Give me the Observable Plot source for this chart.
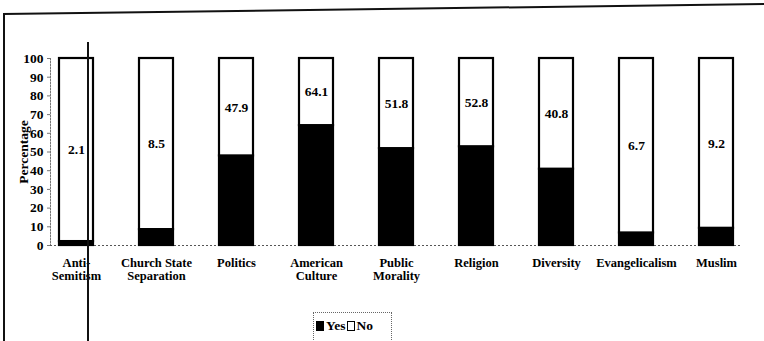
<!DOCTYPE html>
<html>
<head>
<meta charset="utf-8">
<script src="https://cdn.jsdelivr.net/npm/d3@7"></script>
<script src="https://cdn.jsdelivr.net/npm/@observablehq/plot@0.6"></script>
<style>
  html, body { margin: 0; padding: 0; background: #fff; }
  #wrap { position: relative; width: 764px; height: 341px; overflow: hidden; background: #fff; font-family: "Liberation Serif", "Times New Roman", serif; }
  #chart { position: absolute; left: 0; top: 0; }
  #chart svg, #chart svg text { font-family: "Liberation Serif", "Times New Roman", serif !important; }
  #frameLeft { position: absolute; left: 3px; top: 13px; width: 0; height: 340px; border-left: 2px solid #111; }
  #frameTop { position: absolute; left: 3px; top: 13px; width: 770px; height: 0; border-top: 2px solid #111; transform: rotate(-0.75deg); transform-origin: 0 0; }
  #artifact { position: absolute; left: 87px; top: 42px; width: 0; height: 300px; border-left: 2px solid #111; }
  #legend { position: absolute; left: 313px; top: 312px; width: 79px; height: 34px; border: 1px dotted #666; box-sizing: border-box;
            font-family: "Liberation Serif", "Times New Roman", serif; font-weight: bold; font-size: 13.5px; display: flex; align-items: center; justify-content: flex-start; gap: 1px; padding-left: 2px; padding-bottom: 6px; }
  .sw { display: inline-block; width: 8px; height: 10px; box-sizing: border-box; border: 1.5px solid #000; margin-right: 1px; }
</style>
</head>
<body>
<div id="wrap">
  <div id="chart"></div>
  <div id="frameLeft"></div>
  <div id="frameTop"></div>
  <div id="artifact"></div>
  <div id="legend"></div>
</div>
<script>
const categories = ["Anti-Semitism", "Church State Separation", "Politics", "American Culture", "Public Morality", "Religion", "Diversity", "Evangelicalism", "Muslim"];
const categoryLabels = ["Anti-\nSemitism", "Church State\nSeparation", "Politics", "American\nCulture", "Public\nMorality", "Religion", "Diversity", "Evangelicalism", "Muslim"];
const yesValues = [2.1, 8.5, 47.9, 64.1, 51.8, 52.8, 40.8, 6.7, 9.2];
const seriesNames = ["Yes", "No"];
const seriesColors = ["#000000", "#ffffff"];
const yTicks = [0, 10, 20, 30, 40, 50, 60, 70, 80, 90, 100];

const long = categories.flatMap((c, i) => [
  {category: c, series: "Yes", value: yesValues[i]},
  {category: c, series: "No", value: 100 - yesValues[i]}
]);
const labels = categories.map((c, i) => ({category: c, yes: yesValues[i]}));

const serif = '"Liberation Serif", "Times New Roman", serif';

const chart = Plot.plot({
  width: 764,
  height: 300,
  marginTop: 58,
  marginBottom: 55,
  marginLeft: 50,
  marginRight: 22,
  style: {fontFamily: serif, fontWeight: "bold", fontSize: "12px", color: "#000", background: "transparent"},
  x: {domain: categories, paddingInner: 0.575, paddingOuter: 0.1},
  y: {domain: [0, 100]},
  color: {domain: seriesNames, range: seriesColors},
  marks: [
    Plot.frame({anchor: "left", stroke: "#777", strokeDasharray: "1.5,1.5"}),
    Plot.ruleY([0], {stroke: "#555", strokeDasharray: "2,2"}),
    Plot.barY(long, Plot.stackY({x: "category", y: "value", z: "series", order: seriesNames, fill: "series", stroke: "#000", strokeWidth: 2.2})),
    Plot.text(labels, {x: "category", y: d => (d.yes + 100) / 2, text: d => d.yes.toFixed(1), fontSize: 13.5, fontWeight: "bold", fill: "#000"}),
    Plot.axisY({ticks: yTicks, tickSize: 3, tickPadding: 4, fontSize: 13.5, fontWeight: "bold", label: "Percentage", labelAnchor: "center", labelArrow: "none", labelOffset: 32, stroke: "#777"}),
    Plot.axisX({tickSize: 0, tickPadding: 12, tickFormat: (d) => categoryLabels[categories.indexOf(d)], fontSize: 12.5, fontWeight: "bold", lineHeight: 1.05, lineAnchor: "top", label: null})
  ]
});
document.getElementById("chart").appendChild(chart);

const legend = document.getElementById("legend");
seriesNames.forEach((s, i) => {
  const sw = document.createElement("span");
  sw.className = "sw";
  sw.style.background = seriesColors[i];
  legend.appendChild(sw);
  const t = document.createElement("span");
  t.textContent = s;
  legend.appendChild(t);
});
</script>
</body>
</html>
